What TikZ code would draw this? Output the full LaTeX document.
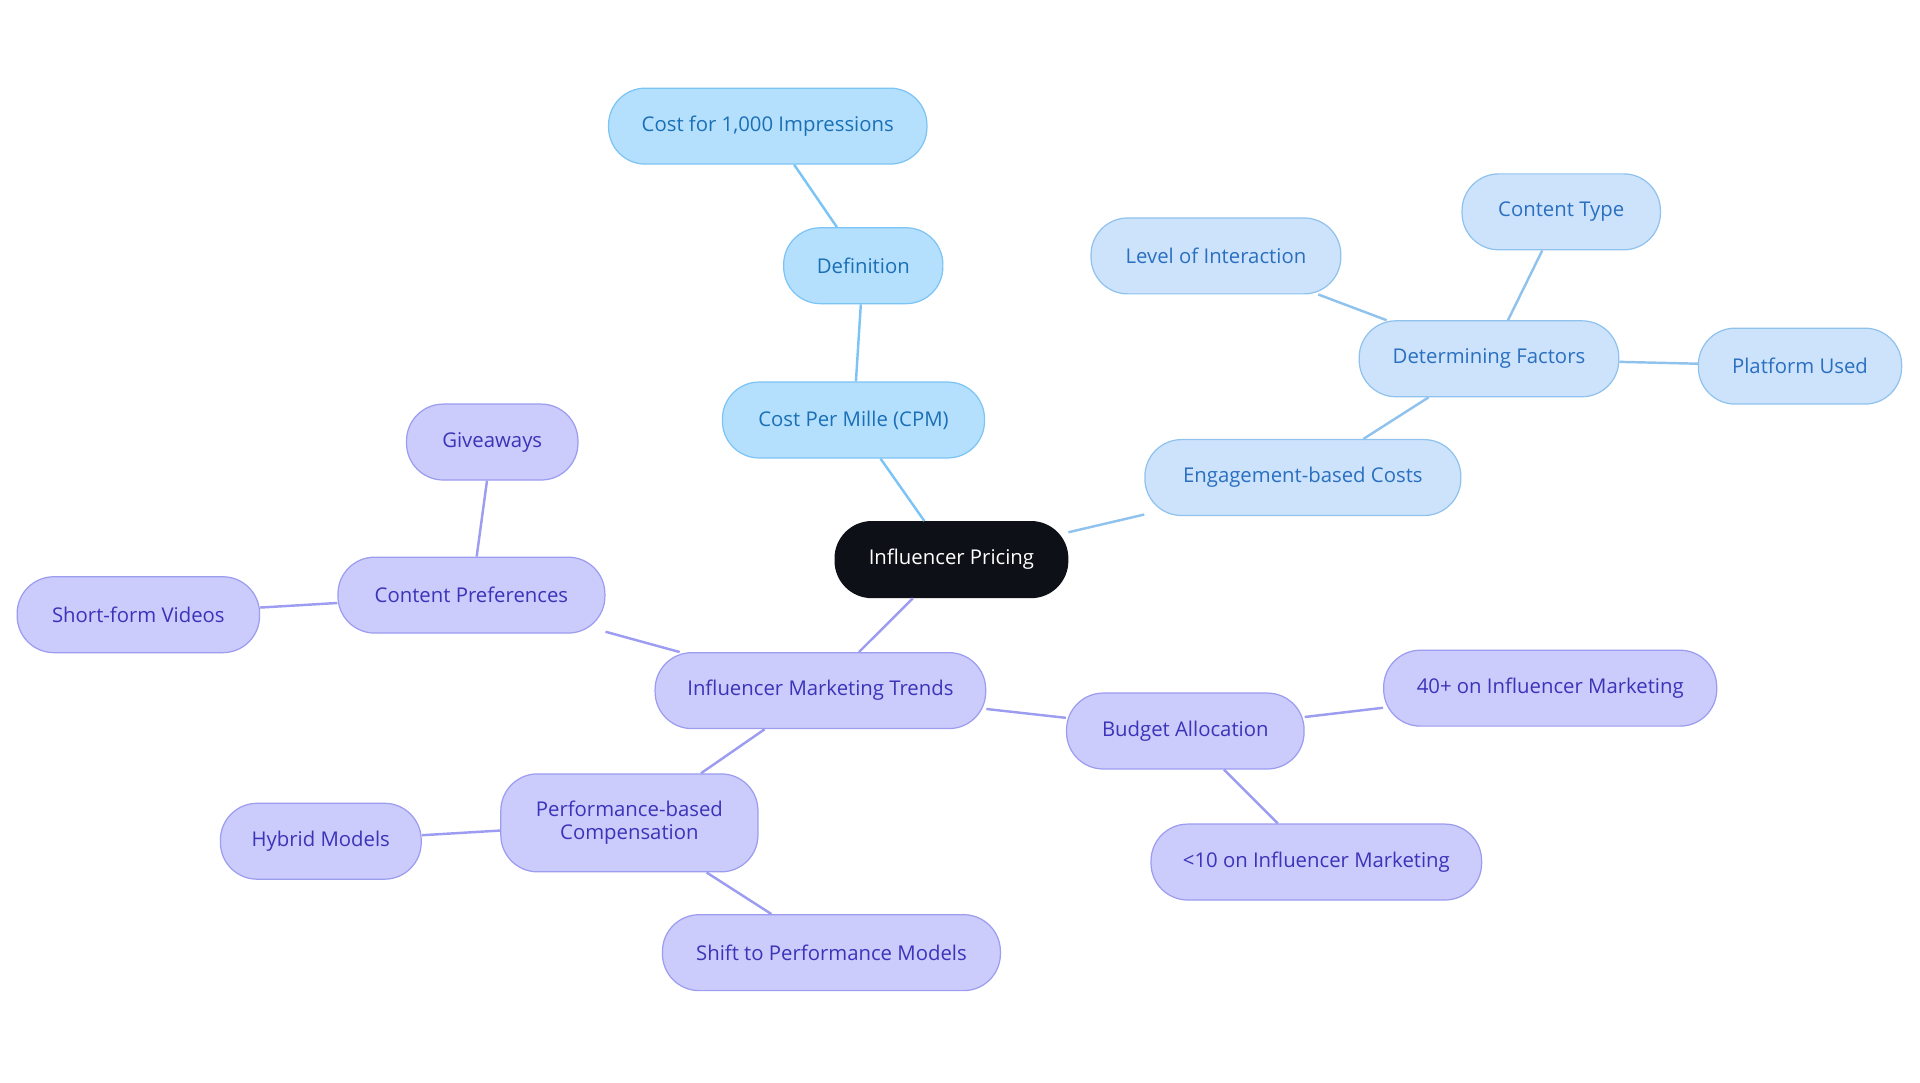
\documentclass[tikz,border=0pt]{standalone}
\usepackage{fontspec}
\setmainfont{Open Sans}
\definecolor{rootf}{HTML}{0D1117}
\definecolor{bf}{HTML}{B5E0FD}\definecolor{bd}{HTML}{7CC4F5}\definecolor{bt}{HTML}{1A6FB5}
\definecolor{lf}{HTML}{CDE3FB}\definecolor{ld}{HTML}{90C2EE}\definecolor{lt}{HTML}{2A6FC0}
\definecolor{pf}{HTML}{CBCBFC}\definecolor{pd}{HTML}{9C9CF0}\definecolor{pt}{HTML}{3B34B8}
\tikzset{
 base/.style={rounded corners=15pt,minimum height=31pt,inner sep=2pt,font=\fontsize{8.3pt}{9.5pt}\selectfont,align=center,line width=0.5pt},
 root/.style={base,fill=rootf,draw=rootf,text=white},
 cb/.style={base,fill=bf,draw=bd,text=bt},
 cl/.style={base,fill=lf,draw=ld,text=lt},
 cp/.style={base,fill=pf,draw=pd,text=pt},
 eb/.style={draw=bd,line width=1pt},
 el/.style={draw=ld,line width=1pt},
 ep/.style={draw=pd,line width=1pt}
}
\begin{document}
\begin{tikzpicture}[x=0.5pt,y=-0.5pt]
\useasboundingbox (0,0) rectangle (1568,884);
\node[root,minimum width=95pt] (r) at (777,457) {Influencer Pricing};
\node[cb,minimum width=107pt] (cpm) at (697,343) {Cost Per Mille (CPM)};
\node[cb,minimum width=65pt] (def) at (705,217) {Definition};
\node[cb,minimum width=130pt] (imp) at (627,103) {Cost for 1,000 Impressions};
\node[cl,minimum width=129pt] (eng) at (1064,390) {Engagement-based Costs};
\node[cl,minimum width=106pt] (det) at (1216,293) {Determining Factors};
\node[cl,minimum width=102pt] (lev) at (993,209) {Level of Interaction};
\node[cl,minimum width=81pt] (ct) at (1275,173) {Content Type};
\node[cl,minimum width=83pt] (pu) at (1470,299) {Platform Used};
\node[cp,minimum width=135pt] (imt) at (670,564) {Influencer Marketing Trends};
\node[cp,minimum width=109pt] (cpr) at (385,486) {Content Preferences};
\node[cp,minimum width=70pt] (gw) at (402,361) {Giveaways};
\node[cp,minimum width=99pt] (sfv) at (113,502) {Short-form Videos};
\node[cp,minimum width=105pt,minimum height=40pt] (pbc) at (514,672) {Performance-based\\Compensation};
\node[cp,minimum width=82pt] (hm) at (262,687) {Hybrid Models};
\node[cp,minimum width=138pt] (spm) at (679,778) {Shift to Performance Models};
\node[cp,minimum width=97pt] (ba) at (968,597) {Budget Allocation};
\node[cp,minimum width=136pt] (f40) at (1266,562) {40+ on Influencer Marketing};
\node[cp,minimum width=135pt] (l10) at (1075,704) {<10 on Influencer Marketing};
\draw[eb] (r)--(cpm); \draw[eb] (cpm)--(def); \draw[eb] (def)--(imp);
\draw[el] (r)--(eng); \draw[el] (eng)--(det); \draw[el] (det)--(lev); \draw[el] (det)--(ct); \draw[el] (det)--(pu);
\draw[ep] (r)--(imt); \draw[ep] (imt)--(cpr); \draw[ep] (cpr)--(gw); \draw[ep] (cpr)--(sfv);
\draw[ep] (imt)--(pbc); \draw[ep] (pbc)--(hm); \draw[ep] (pbc)--(spm);
\draw[ep] (imt)--(ba); \draw[ep] (ba)--(f40); \draw[ep] (ba)--(l10);
\end{tikzpicture}
\end{document}
